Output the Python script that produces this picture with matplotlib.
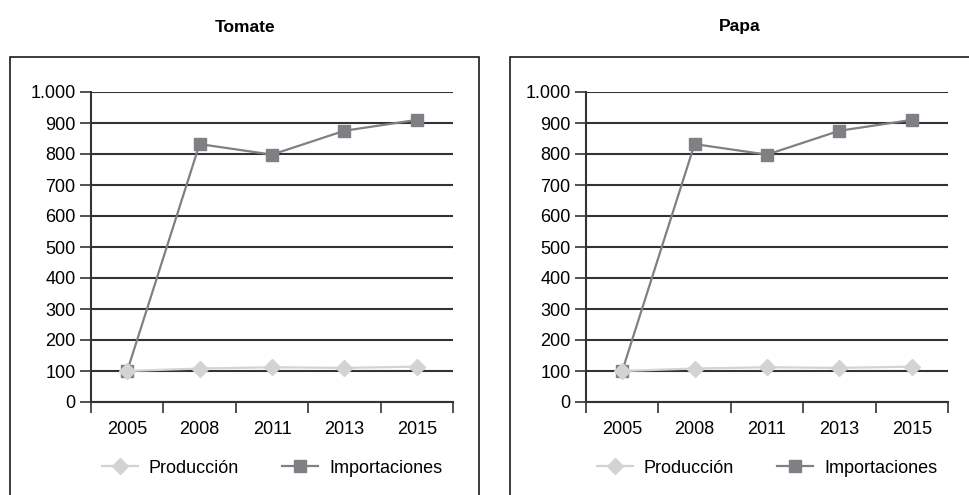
import matplotlib.pyplot as plt
from matplotlib.patches import Rectangle
from matplotlib.ticker import FuncFormatter, FixedLocator

years = ['2005', '2008', '2011', '2013', '2015']
produccion = [100, 108, 112, 110, 114]
importaciones = [100, 832, 798, 875, 910]
titles = ['Tomate', 'Papa']

plt.rcParams['font.family'] = ['Liberation Sans', 'DejaVu Sans']

fig = plt.figure(figsize=(9.69, 4.95), dpi=100)

W, H = 969, 495
# axis left edge, box left, box right, title centre (pixels)
panels = [(91, 10, 479, 245), (586, 510, 975, 740)]

def thousands(v, pos):
    return f'{int(v):,}'.replace(',', '.')

for (ax_left, box_l, box_r, title_x), title in zip(panels, titles):
    fig.patches.append(Rectangle((box_l / W, -0.05), (box_r - box_l) / W, 1 - 57 / H + 0.05,
                                 transform=fig.transFigure, fill=False,
                                 edgecolor='#1a1a1a', linewidth=1.2))
    fig.text(title_x / W, 1 - 27 / H, title,
             ha='center', va='center', fontsize=12.5, fontweight='bold')

    ax = fig.add_axes([ax_left / W, 1 - 402 / H, 362 / W, 310 / H])
    x = range(len(years))
    ax.plot(x, importaciones, color='#808084', linewidth=1.6, marker='s', markersize=8.5,
            label='Importaciones', zorder=3)
    ax.plot(x, produccion, color='#d3d3d3', linewidth=1.6, marker='D', markersize=8.5,
            label='Producción', zorder=4)

    ax.set_xlim(-0.5, 4.5)
    ax.set_ylim(0, 1000)
    ax.set_yticks(range(0, 1001, 100))
    ax.yaxis.set_major_formatter(FuncFormatter(thousands))
    ax.grid(axis='y', color='#333333', linewidth=1.5)
    ax.set_axisbelow(True)

    ax.xaxis.set_major_locator(FixedLocator([i - 0.5 for i in range(6)]))
    ax.xaxis.set_minor_locator(FixedLocator(list(x)))
    ax.set_xticklabels([])
    ax.set_xticklabels(years, minor=True)
    ax.tick_params(axis='x', which='major', length=8, width=1.2, color='#333333', direction='out')
    ax.tick_params(axis='x', which='minor', length=0, pad=14, labelsize=13)
    ax.tick_params(axis='y', length=8, width=1.2, color='#333333', pad=3, labelsize=13)

    for s in ['top', 'right']:
        ax.spines[s].set_visible(False)
    ax.spines['left'].set_color('#333333')
    ax.spines['left'].set_linewidth(1.5)
    ax.spines['bottom'].set_color('#333333')
    ax.spines['bottom'].set_linewidth(1.5)

    handles, labels = ax.get_legend_handles_labels()
    ax.legend(handles[::-1], labels[::-1], loc='center', bbox_to_anchor=(0.5, -0.213),
              ncol=2, frameon=False, fontsize=13, handlelength=2.0, columnspacing=2.4,
              handletextpad=0.6)

fig.savefig('out.png', dpi=100)
